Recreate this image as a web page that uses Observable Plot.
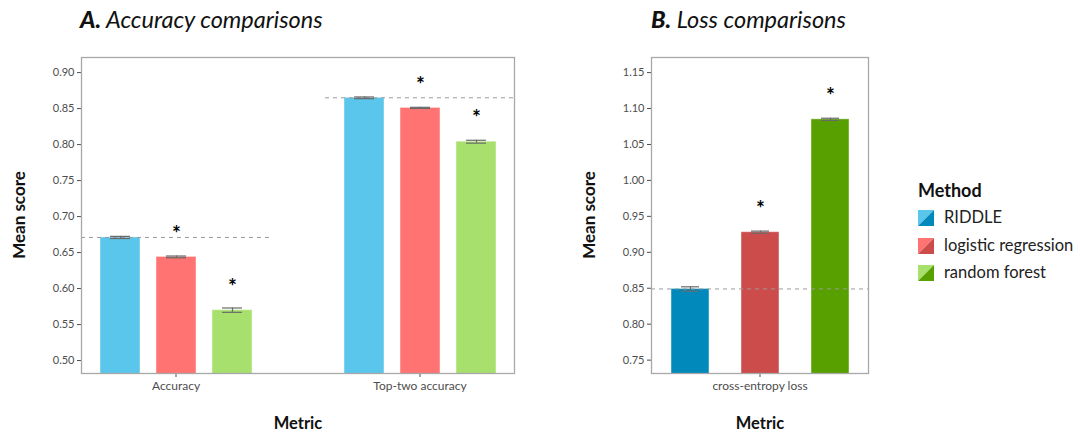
<!DOCTYPE html>
<html><head><meta charset="utf-8">
<script src="https://cdn.jsdelivr.net/npm/d3@7"></script>
<script src="https://cdn.jsdelivr.net/npm/@observablehq/plot@0.6"></script>
<style>
body{margin:0;background:#fff;}
#root{position:relative;width:1080px;height:432px;font-family:Lato,"Open Sans",sans-serif;overflow:hidden;background:#fff}
.abs{position:absolute;white-space:nowrap}
.title{font-size:23.5px;font-style:italic;color:#111;}
.title b{font-weight:900}
.axt{font-size:16.5px;line-height:1;font-weight:bold;color:#111;transform:translate(-50%,-50%)}
.axty{font-size:17px;line-height:1;font-weight:bold;color:#111;transform:translate(-50%,-50%) rotate(-90deg)}
.leg{font-size:16.5px;color:#222}
.legt{font-size:18px;font-weight:bold;color:#111}
</style></head><body><div id="root"></div>
<script>
// ---- data ----
const methods = ["RIDDLE", "logistic regression", "random forest"];
const accuracyMetrics = ["Accuracy", "Top-two accuracy"];
const lossMetrics = ["cross-entropy loss"];
const accuracyMeans = [0.671, 0.644, 0.570];
const accuracyErr   = [0.0015, 0.0012, 0.003];
const topTwoMeans   = [0.865, 0.851, 0.804];
const topTwoErr     = [0.0012, 0.0008, 0.002];
const lossMeans     = [0.849, 0.928, 1.085];
const lossErr       = [0.003, 0.0015, 0.0015];
const significant   = [false, true, true];
const accuracyTicks = [0.50, 0.55, 0.60, 0.65, 0.70, 0.75, 0.80, 0.85, 0.90];
const lossTicks     = [0.75, 0.80, 0.85, 0.90, 0.95, 1.00, 1.05, 1.10, 1.15];
const lightColors = ["#5AC6EB", "#FF7373", "#A7E06D"];
const darkColors  = ["#0189BC", "#CC4B4B", "#58A000"];

function rows(metrics, meansList, errList) {
  return metrics.flatMap((metric, i) => methods.map((method, j) => ({
    metric, method, mean: meansList[i][j], err: errList[i][j],
    lo: meansList[i][j] - errList[i][j], hi: meansList[i][j] + errList[i][j], sig: significant[j]
  })));
}
const accData = rows(accuracyMetrics, [accuracyMeans, topTwoMeans], [accuracyErr, topTwoErr]);
const lossData = rows(lossMetrics, [lossMeans], [lossErr]);

function panel(o) {
  const data = o.data;
  return Plot.plot({
    width: o.width, height: 392,
    marginLeft: o.marginLeft, marginRight: o.marginRight, marginTop: 17, marginBottom: 59,
    style: {fontFamily: "Lato, 'Open Sans', sans-serif", fontSize: "11px", color: "#4d4d4d", background: "transparent"},
    fx: {domain: o.metrics, paddingInner: o.fxIn, paddingOuter: o.fxOut, label: null},
    x: {domain: methods, paddingInner: o.xIn, paddingOuter: o.xOut, axis: null},
    y: {domain: o.yDomain, label: null},
    color: {domain: methods, range: o.colors},
    marks: [
      Plot.barY(data, {fx: "metric", x: "method", y: "mean", fill: "method", stroke: "white", strokeOpacity: 0.45, strokeWidth: 1, clip: true}),
      Plot.ruleY(data.filter(d => d.method === methods[0]), {fx: "metric", y: "mean", stroke: "#9a9a9a", strokeDasharray: "4,4", strokeWidth: 1}),
      Plot.ruleX(data, {fx: "metric", x: "method", y1: "lo", y2: "hi", stroke: "#6a6a6a", strokeWidth: 1.2}),
      Plot.tickY(data, {fx: "metric", x: "method", y: "hi", stroke: "#6a6a6a", strokeWidth: 1.2, inset: 10}),
      Plot.tickY(data, {fx: "metric", x: "method", y: "lo", stroke: "#6a6a6a", strokeWidth: 1.2, inset: 10}),
      Plot.text(data.filter(d => d.sig), {fx: "metric", x: "method", y: "mean", text: () => "*", dy: -23, fontSize: 21, fontWeight: "bold", fill: "#000"}),
      Plot.axisY({ticks: o.ticks, tickFormat: d3.format(".2f"), tickSize: 4, tickPadding: 3, label: null, fontSize: 11}),
      Plot.axisFx({anchor: "bottom", label: null, tickSize: 4, tickPadding: 4, fontSize: 12}),
      Plot.frame({facet: "super", stroke: "#a8a8a8", strokeWidth: 1.3})
    ]
  });
}

const root = document.getElementById("root");
function add(el, left, top, cls, html) {
  const d = document.createElement("div");
  d.className = "abs " + (cls || "");
  d.style.left = left + "px"; d.style.top = top + "px";
  if (html !== undefined) d.innerHTML = html; else d.appendChild(el);
  root.appendChild(d);
  return d;
}

const pA = panel({data: accData, metrics: accuracyMetrics, yDomain: [0.482, 0.921], ticks: accuracyTicks, colors: lightColors,
  width: 540, marginLeft: 77, marginRight: 22, fxIn: 0.224, fxOut: 0.013, xIn: 0.292, xOut: 0.327});
add(pA, 0, 40);
const pB = panel({data: lossData, metrics: lossMetrics, yDomain: [0.7314, 1.171], ticks: lossTicks, colors: darkColors,
  width: 330, marginLeft: 85, marginRight: 17, fxIn: 0, fxOut: 0.025, xIn: 0.4625, xOut: 0.269});
add(pB, 560, 40);

add(null, 80, 5, "title", "<b>A.</b> Accuracy comparisons");
add(null, 651, 5, "title", "<b>B.</b> Loss comparisons");
add(null, 18, 215, "axty", "Mean score");
add(null, 588, 215, "axty", "Mean score");
add(null, 298, 423, "axt", "Metric");
add(null, 760, 423, "axt", "Metric");

// legend
add(null, 918, 179, "legt", "Method");
methods.forEach((m, i) => {
  const y = 210 + i * 27.5;
  add(null, 918, y, "", `<svg width="16" height="16"><polygon points="0,0 16,0 0,16" fill="${lightColors[i]}"/><polygon points="16,0 16,16 0,16" fill="${darkColors[i]}"/></svg>`);
  add(null, 944, y - 3, "leg", m);
});
</script>
</body></html>
